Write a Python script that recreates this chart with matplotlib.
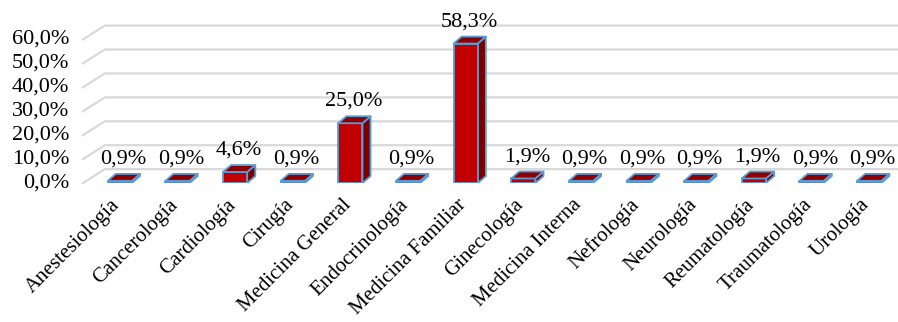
import numpy as np
import matplotlib.pyplot as plt
from matplotlib.patches import Polygon

# data
categorias = ["Anestesiología", "Cancerología", "Cardiología", "Cirugía",
              "Medicina General", "Endocrinología", "Medicina Familiar",
              "Ginecología", "Medicina Interna", "Nefrología", "Neurología",
              "Reumatología", "Traumatología", "Urología"]
valores = [0.9, 0.9, 4.6, 0.9, 25.0, 0.9, 58.3, 1.9, 0.9, 0.9, 0.9, 1.9, 0.9, 0.9]
ticks_y = [0, 10, 20, 30, 40, 50, 60]

plt.rcParams['font.family'] = ['Liberation Serif', 'DejaVu Serif']

W, H = 898, 322
fig = plt.figure(figsize=(W / 100, H / 100), dpi=100)
ax = fig.add_axes([91 / W, 139 / H, 1 - 91 / W, 1 - 139 / H])
ax.set_xlim(-0.5, 13.5)
ax.set_ylim(0, 76.5)
ax.axis('off')

# perspective offsets (data units)
wall_dx, wall_dy = 0.38, 5.8
bar_dx, bar_dy = 0.14, 2.9
bw = 0.42
grid_c = '#d9d9d9'
fs = 16

# back wall gridlines with floor diagonals
for t in ticks_y:
    x0 = -0.64
    ax.plot([x0, x0 + wall_dx, 13.6], [t, t + wall_dy, t + wall_dy],
            color=grid_c, lw=1.6, clip_on=False, zorder=1)
    ax.text(-0.88, t, f"{t},0%", ha='right', va='center', fontsize=fs,
            clip_on=False)

edge = '#5b9bd5'
for i, v in enumerate(valores):
    l, r = i - bw / 2, i + bw / 2
    # side
    ax.add_patch(Polygon([(r, 0), (r + bar_dx, bar_dy), (r + bar_dx, v + bar_dy), (r, v)],
                         facecolor='#7a0000', edgecolor=edge, lw=1.3, zorder=3,
                         joinstyle='round'))
    # front
    ax.add_patch(Polygon([(l, 0), (r, 0), (r, v), (l, v)],
                         facecolor='#c00000', edgecolor=edge, lw=1.3, zorder=4,
                         joinstyle='round'))
    # top
    ax.add_patch(Polygon([(l, v), (r, v), (r + bar_dx, v + bar_dy), (l + bar_dx, v + bar_dy)],
                         facecolor='#8b0000', edgecolor=edge, lw=1.3, zorder=5,
                         joinstyle='round'))
    ax.text(i + 0.06, v + bar_dy + 2.2, f"{v:.1f}%".replace('.', ','),
            ha='center', va='bottom', fontsize=fs, zorder=6)
    ax.text(i - 0.04, -8.0, categorias[i], rotation=45, rotation_mode='anchor',
            ha='right', va='center', fontsize=15, clip_on=False)

fig.savefig('out.png', dpi=100)
